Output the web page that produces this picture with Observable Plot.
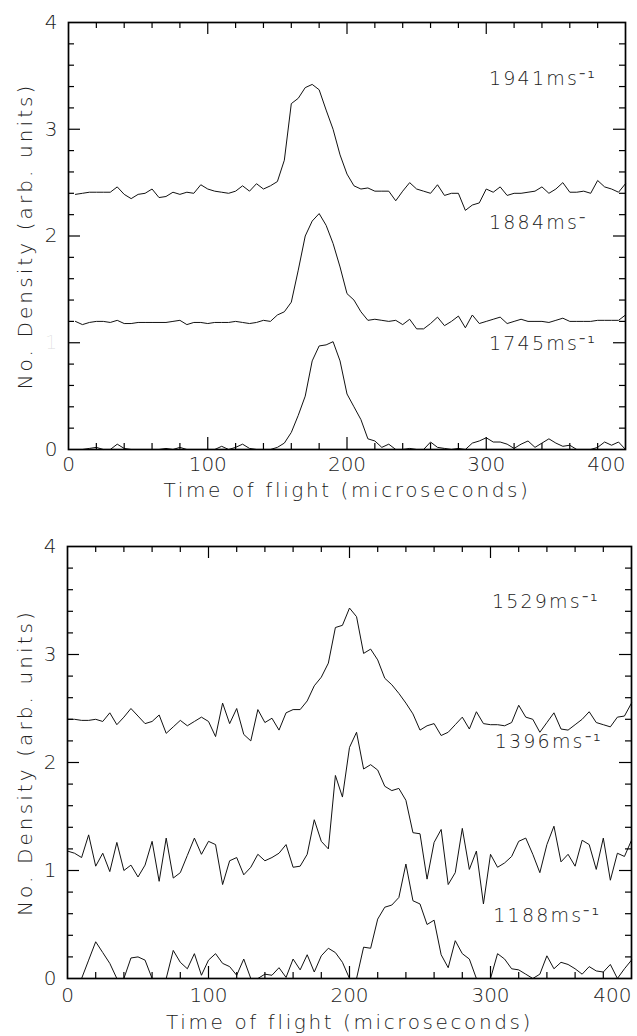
<!DOCTYPE html>
<html><head><meta charset="utf-8">
<script src="https://cdn.jsdelivr.net/npm/d3@7"></script>
<script src="https://cdn.jsdelivr.net/npm/@observablehq/plot@0.6"></script>
<style>
html,body{margin:0;padding:0;background:#fff;}
#top,#bottom{width:637px;}
svg{display:block;}
</style></head><body>
<div id="top"></div><div id="bottom"></div>
<script>
// sample times (microseconds), one sample every 5 µs
const times = d3.range(0, 401, 5);

// ---- top panel series ----
const s1941 = [
  null,2.39,2.40,2.41,2.41,2.41,2.41,2.46,2.39,2.35,
  2.39,2.40,2.44,2.36,2.37,2.41,2.39,2.41,2.40,2.48,
  2.44,2.42,2.41,2.40,2.42,2.47,2.42,2.49,2.44,2.47,
  2.51,2.71,3.24,3.29,3.39,3.42,3.37,3.18,3.00,2.76,
  2.58,2.47,2.44,2.45,2.42,2.42,2.42,2.33,2.42,2.50,
  2.44,2.42,2.40,2.48,2.38,2.40,2.40,2.24,2.29,2.31,
  2.44,2.41,2.46,2.38,2.40,2.40,2.41,2.42,2.46,2.40,
  2.44,2.50,2.41,2.41,2.42,2.40,2.52,2.46,2.44,2.41,
  2.49];
const s1884 = [
  null,1.20,1.17,1.19,1.20,1.20,1.19,1.21,1.18,1.18,
  1.19,1.19,1.19,1.19,1.19,1.20,1.21,1.17,1.19,1.19,
  1.18,1.19,1.19,1.19,1.20,1.19,1.18,1.19,1.21,1.20,
  1.26,1.29,1.38,1.68,2.00,2.14,2.21,2.10,1.93,1.71,
  1.46,1.40,1.29,1.21,1.22,1.21,1.20,1.21,1.17,1.22,
  1.13,1.13,1.18,1.24,1.16,1.20,1.25,1.14,1.26,1.18,
  1.20,1.22,1.24,1.18,1.20,1.22,1.20,1.20,1.20,1.19,
  1.21,1.23,1.20,1.20,1.20,1.20,1.21,1.21,1.21,1.21,
  1.26];
const s1745 = [
  0,0,0,0.01,0.02,0,0,0.05,0.01,0,
  0,0,0,0,0.01,0,0.02,0,0,0,
  0,0,0.03,0,0.02,0.05,0.01,0,0,0,
  0.02,0.06,0.16,0.32,0.50,0.83,0.97,0.98,1.01,0.83,
  0.52,0.40,0.28,0.10,0.08,0.02,0.05,0,0,0.01,
  0,0,0.07,0.02,0.01,0,0.01,0,0.06,0.08,
  0.11,0.07,0.07,0.05,0.01,0.05,0.08,0.02,0.06,0.10,
  0.06,0.03,0.04,0,0,0,0.02,0.07,0.04,0.07,
  0];

// ---- bottom panel series ----
const s1529 = [
  2.40,2.40,2.39,2.39,2.40,2.38,2.46,2.35,2.42,2.50,
  2.43,2.36,2.38,2.44,2.27,2.33,2.39,2.34,2.38,2.42,
  2.38,2.24,2.55,2.36,2.50,2.26,2.20,2.49,2.37,2.41,
  2.30,2.46,2.49,2.49,2.57,2.71,2.79,2.92,3.25,3.27,
  3.43,3.35,3.01,3.05,2.95,2.78,2.72,2.64,2.55,2.45,
  2.30,2.34,2.36,2.25,2.28,2.35,2.42,2.31,2.47,2.36,
  2.35,2.35,2.34,2.37,2.53,2.42,2.40,2.28,2.37,2.46,
  2.31,2.30,2.35,2.40,2.47,2.37,2.35,2.33,2.42,2.43,
  2.55];
const s1396 = [
  1.18,1.16,1.12,1.33,1.04,1.16,0.99,1.26,1.00,1.05,
  0.94,1.05,1.27,0.90,1.30,0.93,0.98,1.14,1.30,1.15,
  1.27,1.24,0.87,1.09,1.12,0.96,1.03,1.15,1.09,1.12,
  1.16,1.24,1.03,1.04,1.15,1.47,1.27,1.20,1.88,1.68,
  2.14,2.28,1.94,1.98,1.93,1.78,1.74,1.76,1.65,1.35,
  1.34,0.92,1.26,1.38,0.87,0.98,1.39,1.01,1.18,0.69,
  1.15,1.03,1.07,1.13,1.27,1.30,1.15,0.98,1.24,1.41,
  1.08,1.15,1.04,1.28,1.24,1.01,1.30,0.91,1.16,1.13,
  1.28];
const s1188 = [
  0,0,0,0.17,0.34,0.24,0.14,0,0,0.19,
  0.20,0.17,0,0,0,0.26,0.15,0.09,0.23,0.03,
  0.17,0.23,0.14,0.11,0.03,0.18,0,0,0.04,0.03,
  0.10,0.01,0.18,0.08,0.22,0.06,0.21,0.28,0.24,0.15,
  0,0,0.29,0.28,0.55,0.66,0.68,0.75,1.06,0.72,
  0.69,0.50,0.54,0.22,0.10,0.35,0.23,0.18,0,0,
  0,0.23,0.18,0.09,0.08,0.04,0,0.04,0.21,0.09,
  0.15,0.13,0.09,0.04,0.11,0.07,0.06,0.13,0,0.09,
  0.17];

// ---- labels & ticks ----
const topNames = ["1941", "1884", "1745"];
const bottomNames = ["1529", "1396", "1188"];
const topLabels = ["1941ms\u207B\u00B9", "1884ms\u207B", "1745ms\u207B\u00B9"];
const bottomLabels = ["1529ms\u207B\u00B9", "1396ms\u207B\u00B9", "1188ms\u207B\u00B9"];
const topLabelX = [302, 302, 302];
const topLabelY = [3.41, 2.07, 0.93];
const bottomLabelX = [301, 303, 302];
const bottomLabelY = [3.43, 2.13, 0.52];
const xTickLabels = [0, 100, 200, 300, 400];
const yTickLabels = [0, 1, 2, 3, 4];
const xMajorTicks = [100, 200, 300];
const xMinorTicks = [20,40,60,80,120,140,160,180,220,240,260,280,320,340,360,380];
const yMajorTicks = [1, 2, 3];
const yMinorTicks = [0.2,0.4,0.6,0.8,1.2,1.4,1.6,1.8,2.2,2.4,2.6,2.8,3.2,3.4,3.6,3.8];
const xLabel = "Time of flight (microseconds)";
const yLabel = "No. Density (arb. units)";

const FONT = "'DejaVu Sans', sans-serif";
const INK = "#222";

function panel({series, names, labels, labelX, labelY, margins, height, faintOne, tickDy, titleDy, titleDx}) {
  const [mt, mr, mb, ml] = margins;
  const W = 637 - ml - mr, H = height - mt - mb;
  const rows = [];
  series.forEach((vals, k) => vals.forEach((v, i) => { if (v != null) rows.push({t: times[i], v, s: names[k]}); }));
  const ann = labels.map((l, i) => ({l, x: labelX[i], y: labelY[i]}));
  const majLen = 12, minLen = 6, tw = 1.2;
  const svg = Plot.plot({
    width: 637, height,
    marginTop: mt, marginRight: mr, marginBottom: mb, marginLeft: ml,
    x: {domain: [0, 400], axis: null},
    y: {domain: [0, 4], axis: null},
    style: {fontFamily: FONT, background: "white", color: INK, overflow: "visible"},
    marks: [
      Plot.line(rows, {x: "t", y: "v", z: "s", stroke: "#111", strokeWidth: 1}),
      // inward ticks on all four sides
      Plot.tickX(xMajorTicks, {x: d => d, insetTop: H - majLen, stroke: "#000", strokeWidth: tw}),
      Plot.tickX(xMajorTicks, {x: d => d, insetBottom: H - majLen, stroke: "#000", strokeWidth: tw}),
      Plot.tickX(xMinorTicks, {x: d => d, insetTop: H - minLen, stroke: "#000", strokeWidth: tw}),
      Plot.tickX(xMinorTicks, {x: d => d, insetBottom: H - minLen, stroke: "#000", strokeWidth: tw}),
      Plot.tickY(yMajorTicks, {y: d => d, insetRight: W - majLen, stroke: "#000", strokeWidth: tw}),
      Plot.tickY(yMajorTicks, {y: d => d, insetLeft: W - majLen, stroke: "#000", strokeWidth: tw}),
      Plot.tickY(yMinorTicks, {y: d => d, insetRight: W - minLen, stroke: "#000", strokeWidth: tw}),
      Plot.tickY(yMinorTicks, {y: d => d, insetLeft: W - minLen, stroke: "#000", strokeWidth: tw}),
      Plot.frame({stroke: "#000", strokeWidth: 1.7}),
      // tick labels
      Plot.text(yTickLabels, {y: d => d, text: d => String(d), frameAnchor: "left", dx: -11, textAnchor: "end",
        lineAnchor: "middle", fontSize: 20, fontWeight: 200, fill: INK,
        fillOpacity: d => (faintOne && d === 1) ? 0.12 : 1}),
      Plot.text(xTickLabels.filter(d => d < 400), {x: d => d, text: d => String(d), frameAnchor: "bottom", dy: tickDy,
        textAnchor: "middle", lineAnchor: "middle", fontSize: 20, fontWeight: 200, fill: INK}),
      Plot.text(xTickLabels.filter(d => d === 400), {x: d => d, text: d => String(d), frameAnchor: "bottom", dy: tickDy,
        textAnchor: "end", lineAnchor: "middle", fontSize: 20, fontWeight: 200, fill: INK}),
      // axis titles
      Plot.text([xLabel], {text: d => d, frameAnchor: "bottom", dy: titleDy, textAnchor: "middle", lineAnchor: "middle",
        fontSize: 20, fontWeight: 200, fill: INK}),
      Plot.text([yLabel], {text: d => d, frameAnchor: "left", dx: titleDx, rotate: -90, textAnchor: "middle",
        lineAnchor: "middle", fontSize: 20, fontWeight: 200, fill: INK}),
      // speed annotations
      Plot.text(ann, {x: "x", y: "y", text: "l", textAnchor: "start", lineAnchor: "bottom", fontSize: 19,
        fontWeight: 200, fill: INK})
    ]
  });
  const sel = d3.select(svg).selectAll("text");
  sel.filter(function() { return this.textContent === xLabel; }).style("letter-spacing", "2.6px");
  sel.filter(function() { return this.textContent === yLabel; }).style("letter-spacing", "3.1px");
  sel.filter(function() { return labels.includes(this.textContent); }).style("letter-spacing", "2.2px");
  return svg;
}

document.getElementById("top").append(panel({
  series: [s1941, s1884, s1745], names: topNames, labels: topLabels, labelX: topLabelX, labelY: topLabelY,
  margins: [22, 12, 69, 68], height: 518, faintOne: true, tickDy: 15, titleDy: 41, titleDx: -43
}));
document.getElementById("bottom").append(panel({
  series: [s1529, s1396, s1188], names: bottomNames, labels: bottomLabels, labelX: bottomLabelX, labelY: bottomLabelY,
  margins: [28, 6, 58, 67], height: 518, faintOne: false, tickDy: 17, titleDy: 44, titleDx: -42
}));
</script>
</body></html>
